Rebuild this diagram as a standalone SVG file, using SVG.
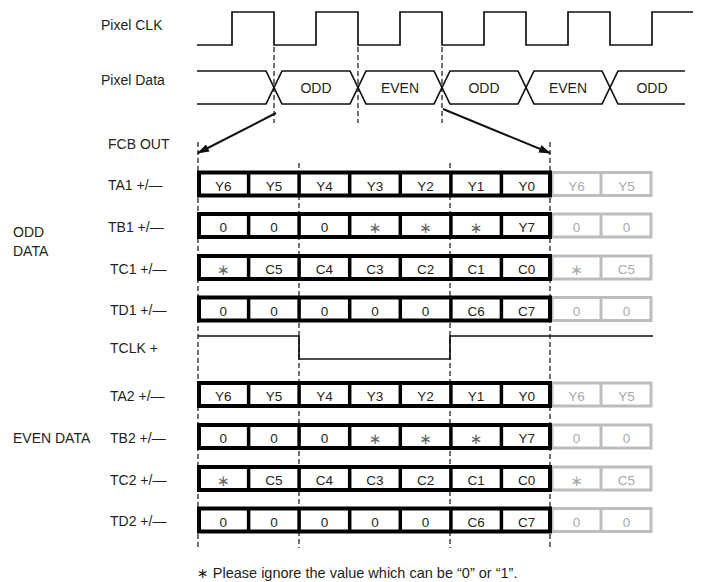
<svg xmlns="http://www.w3.org/2000/svg" width="703" height="582" viewBox="0 0 703 582">
<style>
text{font-family:"Liberation Sans",Arial,sans-serif;fill:#231f20}
.lbl{font-size:14px}
.cell{font-size:13.5px;text-anchor:middle}
.g{fill:#aaaaaa}
.ast{font-family:"DejaVu Sans",sans-serif;font-size:15px;fill:#666}
.ast.g{fill:#aaaaaa}
.wave{fill:none;stroke:#111;stroke-width:1.7}
.dash{fill:none;stroke:#111;stroke-width:1.2;stroke-dasharray:5 3}
.box{fill:#fff;stroke:#000;stroke-width:4}
.div{stroke:#000;stroke-width:3.5}
.gbox{fill:#fff;stroke:#bdbdbd;stroke-width:3}
.gdiv{stroke:#bdbdbd;stroke-width:3}
.arr{stroke:#111;stroke-width:2;fill:none;marker-end:url(#ah)}
</style>
<defs>
<marker id="ah" viewBox="0 0 12 8" refX="11" refY="4" markerWidth="12" markerHeight="8" markerUnits="userSpaceOnUse" orient="auto">
<path d="M0,0 L12,4 L0,8 Z" fill="#111"/>
</marker>
<g id="row">
<rect class="gbox" x="552" y="-11.5" width="99" height="23"/>
<line class="gdiv" x1="601" y1="-11.5" x2="601" y2="11.5"/>
<rect class="box" x="199" y="-11.5" width="351" height="23"/>
<line class="div" x1="248.6" y1="-11.5" x2="248.6" y2="11.5"/>
<line class="div" x1="299.1" y1="-11.5" x2="299.1" y2="11.5"/>
<line class="div" x1="349.7" y1="-11.5" x2="349.7" y2="11.5"/>
<line class="div" x1="400.3" y1="-11.5" x2="400.3" y2="11.5"/>
<line class="div" x1="450.9" y1="-11.5" x2="450.9" y2="11.5"/>
<line class="div" x1="501.4" y1="-11.5" x2="501.4" y2="11.5"/>
</g>
</defs>
<rect width="703" height="582" fill="#fff"/>

<g id="connectors">
<line class="dash" x1="274" y1="47" x2="274" y2="123"/>
<line class="dash" x1="358" y1="47" x2="358" y2="123"/>
<line class="dash" x1="442" y1="47" x2="442" y2="123"/>
<line class="dash" x1="198" y1="142" x2="198" y2="548"/>
<line class="dash" x1="299" y1="163" x2="299" y2="548"/>
<line class="dash" x1="450" y1="163" x2="450" y2="548"/>
<line class="dash" x1="550" y1="142" x2="550" y2="548"/>
<line class="arr" x1="276" y1="113" x2="198" y2="153"/>
<line class="arr" x1="443" y1="109" x2="550" y2="153"/>
</g>

<g id="pixel-clk">
<text class="lbl" x="101" y="30">Pixel CLK</text>
<path class="wave" d="M197,45 H232 V12 H274 V45 H316 V12 H358 V45 H400 V12 H442 V45 H484 V12 H526 V45 H568 V12 H610 V45 H652 V12 H693"/>
</g>

<g id="pixel-data">
<text class="lbl" x="101" y="85">Pixel Data</text>
<path class="wave" stroke-width="1.5" d="M197,71 H266 L282,104 H350 L366,71 H434 L450,104 H518 L534,71 H602 L618,104 H685"/>
<path class="wave" stroke-width="1.5" d="M197,104 H266 L282,71 H350 L366,104 H434 L450,71 H518 L534,104 H602 L618,71 H685"/>
<text class="lbl" x="316" y="93" text-anchor="middle">ODD</text>
<text class="lbl" x="400" y="93" text-anchor="middle">EVEN</text>
<text class="lbl" x="484" y="93" text-anchor="middle">ODD</text>
<text class="lbl" x="568" y="93" text-anchor="middle">EVEN</text>
<text class="lbl" x="652" y="93" text-anchor="middle">ODD</text>
</g>

<g id="fcb-out">
<text class="lbl" x="108" y="149">FCB OUT</text>
</g>

<g id="odd-data-label">
<text class="lbl" x="13" y="237">ODD</text>
<text class="lbl" x="13" y="256">DATA</text>
</g>

<g id="ta1" transform="translate(0,184)">
<text class="lbl" x="108" y="6">TA1 +/—</text>
<use href="#row"/>
<text class="cell" x="223.3" y="6.5">Y6</text><text class="cell" x="273.9" y="6.5">Y5</text><text class="cell" x="324.4" y="6.5">Y4</text><text class="cell" x="375" y="6.5">Y3</text><text class="cell" x="425.6" y="6.5">Y2</text><text class="cell" x="476.1" y="6.5">Y1</text><text class="cell" x="526.7" y="6.5">Y0</text>
<text class="cell g" x="576.5" y="6.5">Y6</text><text class="cell g" x="626.5" y="6.5">Y5</text>
</g>

<g id="tb1" transform="translate(0,225.5)">
<text class="lbl" x="108" y="6">TB1 +/—</text>
<use href="#row"/>
<text class="cell" x="223.3" y="6.5">0</text><text class="cell" x="273.9" y="6.5">0</text><text class="cell" x="324.4" y="6.5">0</text><text class="cell ast" x="375" y="7">∗</text><text class="cell ast" x="425.6" y="7">∗</text><text class="cell ast" x="476.1" y="7">∗</text><text class="cell" x="526.7" y="6.5">Y7</text>
<text class="cell g" x="576.5" y="6.5">0</text><text class="cell g" x="626.5" y="6.5">0</text>
</g>

<g id="tc1" transform="translate(0,267.5)">
<text class="lbl" x="110" y="6">TC1 +/—</text>
<use href="#row"/>
<text class="cell ast" x="223.3" y="7">∗</text><text class="cell" x="273.9" y="6.5">C5</text><text class="cell" x="324.4" y="6.5">C4</text><text class="cell" x="375" y="6.5">C3</text><text class="cell" x="425.6" y="6.5">C2</text><text class="cell" x="476.1" y="6.5">C1</text><text class="cell" x="526.7" y="6.5">C0</text>
<text class="cell ast g" x="576.5" y="7">∗</text><text class="cell g" x="626.5" y="6.5">C5</text>
</g>

<g id="td1" transform="translate(0,309)">
<text class="lbl" x="110" y="6">TD1 +/—</text>
<use href="#row"/>
<text class="cell" x="223.3" y="6.5">0</text><text class="cell" x="273.9" y="6.5">0</text><text class="cell" x="324.4" y="6.5">0</text><text class="cell" x="375" y="6.5">0</text><text class="cell" x="425.6" y="6.5">0</text><text class="cell" x="476.1" y="6.5">C6</text><text class="cell" x="526.7" y="6.5">C7</text>
<text class="cell g" x="576.5" y="6.5">0</text><text class="cell g" x="626.5" y="6.5">0</text>
</g>

<g id="tclk">
<text class="lbl" x="110" y="353">TCLK +</text>
<path class="wave" stroke-width="1.6" d="M198,336 H299 V359 H450 V336 H653"/>
</g>

<g id="even-data-label">
<text class="lbl" x="13" y="443">EVEN DATA</text>
</g>

<g id="ta2" transform="translate(0,394.5)">
<text class="lbl" x="110" y="6">TA2 +/—</text>
<use href="#row"/>
<text class="cell" x="223.3" y="6.5">Y6</text><text class="cell" x="273.9" y="6.5">Y5</text><text class="cell" x="324.4" y="6.5">Y4</text><text class="cell" x="375" y="6.5">Y3</text><text class="cell" x="425.6" y="6.5">Y2</text><text class="cell" x="476.1" y="6.5">Y1</text><text class="cell" x="526.7" y="6.5">Y0</text>
<text class="cell g" x="576.5" y="6.5">Y6</text><text class="cell g" x="626.5" y="6.5">Y5</text>
</g>

<g id="tb2" transform="translate(0,436.5)">
<text class="lbl" x="110" y="6">TB2 +/—</text>
<use href="#row"/>
<text class="cell" x="223.3" y="6.5">0</text><text class="cell" x="273.9" y="6.5">0</text><text class="cell" x="324.4" y="6.5">0</text><text class="cell ast" x="375" y="7">∗</text><text class="cell ast" x="425.6" y="7">∗</text><text class="cell ast" x="476.1" y="7">∗</text><text class="cell" x="526.7" y="6.5">Y7</text>
<text class="cell g" x="576.5" y="6.5">0</text><text class="cell g" x="626.5" y="6.5">0</text>
</g>

<g id="tc2" transform="translate(0,478.5)">
<text class="lbl" x="110" y="6">TC2 +/—</text>
<use href="#row"/>
<text class="cell ast" x="223.3" y="7">∗</text><text class="cell" x="273.9" y="6.5">C5</text><text class="cell" x="324.4" y="6.5">C4</text><text class="cell" x="375" y="6.5">C3</text><text class="cell" x="425.6" y="6.5">C2</text><text class="cell" x="476.1" y="6.5">C1</text><text class="cell" x="526.7" y="6.5">C0</text>
<text class="cell ast g" x="576.5" y="7">∗</text><text class="cell g" x="626.5" y="6.5">C5</text>
</g>

<g id="td2" transform="translate(0,520)">
<text class="lbl" x="110" y="6">TD2 +/—</text>
<use href="#row"/>
<text class="cell" x="223.3" y="6.5">0</text><text class="cell" x="273.9" y="6.5">0</text><text class="cell" x="324.4" y="6.5">0</text><text class="cell" x="375" y="6.5">0</text><text class="cell" x="425.6" y="6.5">0</text><text class="cell" x="476.1" y="6.5">C6</text><text class="cell" x="526.7" y="6.5">C7</text>
<text class="cell g" x="576.5" y="6.5">0</text><text class="cell g" x="626.5" y="6.5">0</text>
</g>

<g id="footnote">
<text x="197" y="578" font-size="14.5"><tspan font-family="DejaVu Sans" font-size="14">∗</tspan> Please ignore the value which can be “0” or “1”.</text>
</g>
</svg>
